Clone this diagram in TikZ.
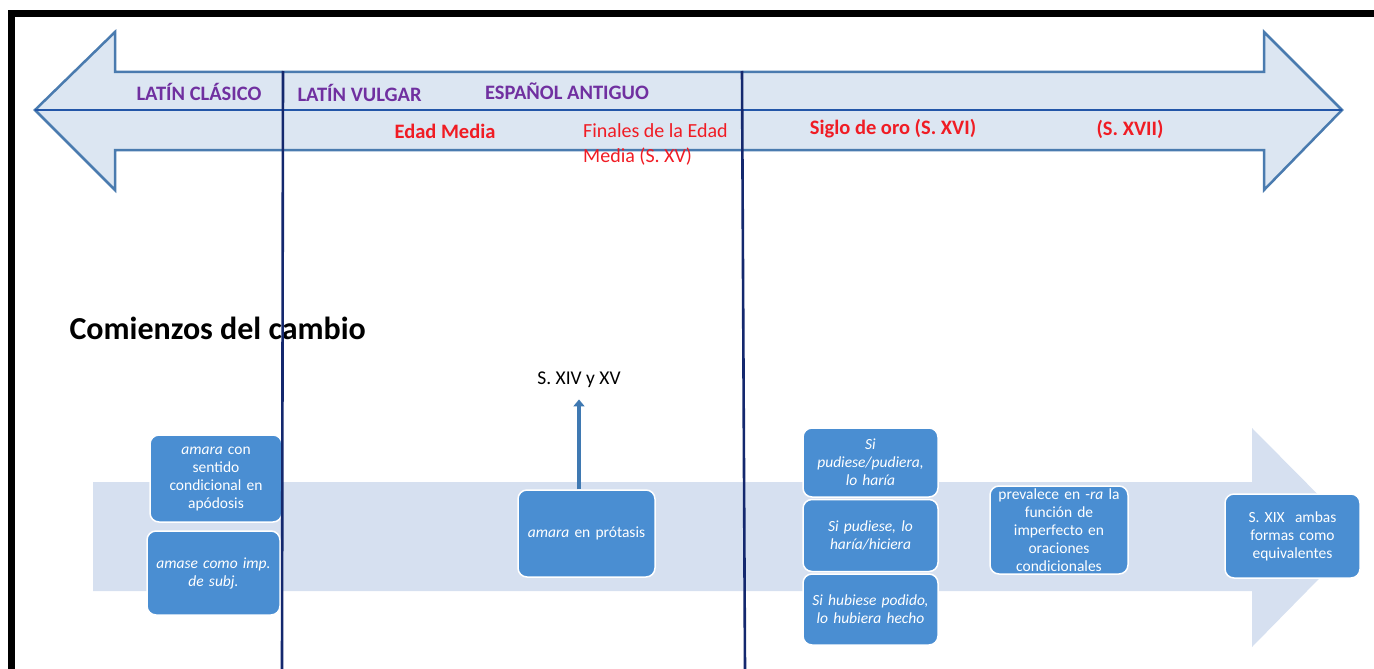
\documentclass[tikz,border=0pt]{standalone}
\usepackage{fontspec}
\setmainfont{Carlito}
\usetikzlibrary{arrows.meta,positioning}

\definecolor{fondoflecha}{HTML}{DCE6F2}
\definecolor{bordeflecha}{HTML}{4A7BAF}
\definecolor{eje}{HTML}{2356A8}
\definecolor{marino}{HTML}{14286E}
\definecolor{palido}{HTML}{D6E0F0}
\definecolor{azulcaja}{HTML}{4A8ED2}
\definecolor{morado}{HTML}{7030A0}
\definecolor{rojo}{HTML}{F01C24}

\tikzset{
  caja/.style={draw=white,line width=1.5pt,fill=azulcaja,rounded corners=9pt,text=white,
    align=center,inner sep=1pt,font=\fontsize{15.5}{18}\selectfont},
  epoca/.style={text=morado,font=\bfseries\fontsize{20.5}{24}\selectfont},
  periodo/.style={text=rojo,font=\bfseries\fontsize{20.5}{24}\selectfont},
  divisor/.style={marino,line width=2.6pt},
}

\begin{document}
\begin{tikzpicture}[x=1pt,y=-1pt]
\useasboundingbox (0,0) rectangle (1374,669);
% marco
\fill (8,10) rectangle (1374,17);
\fill (8,10) rectangle (15,669);

% flecha doble de las epocas
\draw[bordeflecha,fill=fondoflecha,line width=2.5pt,line join=miter]
  (35,110) -- (115,32) -- (115,72) -- (1264,72) -- (1264,32) -- (1342,110)
  -- (1264,190) -- (1264,150) -- (115,150) -- (115,190) -- cycle;
\draw[eje,line width=2.8pt] (35,110) -- (1342,110);

\node[epoca] (clasico) at (199,92) {LATÍN CLÁSICO};
\node[epoca,anchor=west] (vulgar) at (294,93) {LATÍN VULGAR};
\node[epoca] (antiguo) at (567,91) {ESPAÑOL ANTIGUO};
\node[periodo] (media) at (445,131) {Edad Media};
\node[text=rojo,anchor=north west,align=left,inner sep=0pt,
  font=\fontsize{20}{25}\selectfont] (finales) at (583,123) {Finales de la Edad\\Media (S. XV)};
\node[periodo] (oro) at (893,129) {Siglo de oro (S. XVI)};
\node[periodo] (xvii) at (1130,129) {(S. XVII)};

\node[anchor=west,font=\bfseries\fontsize{32}{36}\selectfont] (comienzos) at (66,328) {Comienzos del cambio};

% flecha palida del cambio
\fill[palido] (93,482) -- (1252,482) -- (1252,428) -- (1360,537) -- (1252,647)
  -- (1252,591) -- (93,591) -- cycle;

\node[caja,minimum width=132,minimum height=87,text width=128] (apodosis) at (216,478.5)
  {\textit{amara} con\\sentido\\condicional en\\apódosis};
\node[caja,minimum width=133,minimum height=84,text width=129] (amase) at (213.5,573)
  {\textit{amase como imp.}\\\textit{de subj.}};
\node[caja,minimum width=137,minimum height=87,text width=133] (protasis) at (586.5,533.5)
  {\textit{amara} en prótasis};
\node[caja,minimum width=135,minimum height=69,text width=131] (pudiera) at (870.5,462.5)
  {\textit{Si}\\\textit{pudiese/pudiera,}\\\textit{lo haría}};
\node[caja,minimum width=135,minimum height=72,text width=131,below=1pt of pudiera] (hiciera)
  {\textit{Si pudiese, lo}\\\textit{haría/hiciera}};
\node[caja,minimum width=135,minimum height=71,text width=131,below=1pt of hiciera] (hecho)
  {\textit{Si hubiese podido,}\\\textit{lo hubiera hecho}};
\node[caja,minimum width=138,minimum height=88,text width=134] (prevalece) at (1059,530)
  {prevalece en -\textit{ra} la\\función de\\imperfecto en\\oraciones\\condicionales};
\node[caja,minimum width=135,minimum height=84,text width=131] (xix) at (1292.5,536)
  {S. XIX~ ambas\\formas como\\equivalentes};

\node[font=\fontsize{19.5}{22}\selectfont] (siglos) at (579,380) {S. XIV y XV};
\draw[azulcaja!85!black,line width=4pt,-{Triangle[width=11pt,length=7pt]},shorten >=8pt]
  (siglos |- protasis.north) -- (siglos.south);

% divisiones
\draw[divisor] (283,71) -- (282,669);
\draw[divisor] (742,71) -- (745,669);
\end{tikzpicture}
\end{document}
